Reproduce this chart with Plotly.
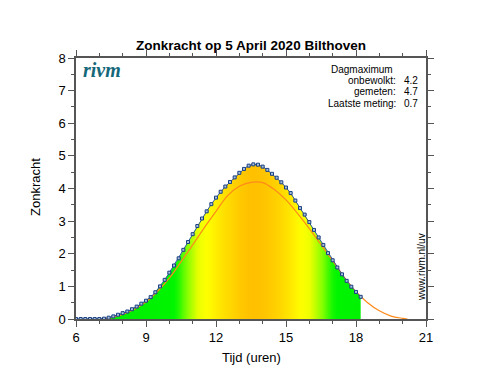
import plotly.graph_objects as go

# ---- data ----
meas_hours = [6.0, 6.2, 6.4, 6.6, 6.8, 7.0, 7.2, 7.4, 7.6, 7.8,
              8.0, 8.2, 8.4, 8.6, 8.8, 9.0, 9.2, 9.4, 9.6, 9.8,
              10.0, 10.2, 10.4, 10.6, 10.8, 11.0, 11.2, 11.4, 11.6, 11.8,
              12.0, 12.2, 12.4, 12.6, 12.8, 13.0, 13.2, 13.4, 13.6, 13.8,
              14.0, 14.2, 14.4, 14.6, 14.8, 15.0, 15.2, 15.4, 15.6, 15.8,
              16.0, 16.2, 16.4, 16.6, 16.8, 17.0, 17.2, 17.4, 17.6, 17.8,
              18.0, 18.2]
meas_values = [0, 0, 0, 0, 0, 0, 0.01, 0.04, 0.08, 0.13,
               0.18, 0.23, 0.30, 0.38, 0.47, 0.56, 0.67, 0.82, 1.00, 1.20,
               1.42, 1.64, 1.86, 2.12, 2.36, 2.60, 2.85, 3.08, 3.30, 3.52,
               3.72, 3.90, 4.06, 4.20, 4.34, 4.48, 4.60, 4.70, 4.74, 4.73,
               4.67, 4.57, 4.45, 4.33, 4.19, 4.03, 3.86, 3.63, 3.40, 3.20,
               2.97, 2.73, 2.50, 2.27, 2.02, 1.80, 1.58, 1.37, 1.17, 0.99,
               0.83, 0.68]

clear_hours = [7.0, 7.5, 8.0, 8.5, 9.0, 9.5, 10.0, 10.5, 11.0, 11.5,
               12.0, 12.5, 13.0, 13.5, 14.0, 14.5, 15.0, 15.5, 16.0, 16.5,
               17.0, 17.5, 18.0, 18.5, 19.0, 19.5, 20.0, 20.2]
clear_values = [0.0, 0.04, 0.14, 0.30, 0.52, 0.85, 1.25, 1.75, 2.27, 2.80,
                3.30, 3.78, 4.07, 4.19, 4.18, 3.97, 3.65, 3.23, 2.77, 2.28,
                1.78, 1.28, 0.84, 0.50, 0.25, 0.09, 0.02, 0.0]

x_ticks = [6, 9, 12, 15, 18, 21]
y_ticks = [0, 1, 2, 3, 4, 5, 6, 7, 8]

title_text = "Zonkracht op 5 April 2020 Bilthoven"
info_labels = ["onbewolkt:", "gemeten:", "Laatste meting:"]
info_values = ["4.2", "4.7", "0.7"]

# ---- colour by value for the fill ----
anchors = [(0.0, (0, 240, 0)), (1.7, (0, 245, 0)), (2.3, (130, 255, 0)),
           (2.9, (235, 255, 0)), (3.35, (255, 255, 0)), (3.9, (255, 230, 0)),
           (4.4, (255, 206, 0)), (4.8, (255, 190, 0))]


def colour_for(v):
    if v <= anchors[0][0]:
        c = anchors[0][1]
    elif v >= anchors[-1][0]:
        c = anchors[-1][1]
    else:
        for (a, ca), (b, cb) in zip(anchors[:-1], anchors[1:]):
            if a <= v <= b:
                t = (v - a) / (b - a)
                c = tuple(round(ca[i] + (cb[i] - ca[i]) * t) for i in range(3))
                break
    return "rgb(%d,%d,%d)" % c


xmin, xmax = meas_hours[0], meas_hours[-1]
fill_scale = [[(h - xmin) / (xmax - xmin), colour_for(v)]
              for h, v in zip(meas_hours, meas_values)]

FONT = "Liberation Sans, Arial, Helvetica, sans-serif"

fig = go.Figure()

fig.add_trace(go.Scatter(
    x=meas_hours, y=meas_values, mode="none", fill="tozeroy",
    fillgradient=dict(type="horizontal", colorscale=fill_scale),
    hoverinfo="skip", showlegend=False))

fig.add_trace(go.Scatter(
    x=clear_hours, y=clear_values, mode="lines",
    line=dict(color="#ff8a1a", width=1.2, shape="spline"),
    showlegend=False))

fig.add_trace(go.Scatter(
    x=meas_hours, y=meas_values, mode="lines+markers",
    line=dict(color="#2a5599", width=1),
    marker=dict(symbol="square", size=3, color="#a8c0d8",
                line=dict(color="#1a3f82", width=1)),
    showlegend=False))

L, R, T, B = 76, 76, 58, 58
W, H = 502, 377
pw, ph = W - L - R, H - T - B


def px(xp):
    return (xp - L) / pw


def py(yp):
    return (H - B - yp) / ph


ann = []
ann.append(dict(text="Dagmaximum", x=px(329), y=py(69), xanchor="left",
                yanchor="middle", font=dict(size=10, family=FONT, color="#000")))
for i, (lab, val) in enumerate(zip(info_labels, info_values)):
    yy = py(80 + i * 11.6)
    ann.append(dict(text=lab, x=px(398), y=yy, xanchor="right", yanchor="middle",
                    font=dict(size=10, family=FONT, color="#000")))
    ann.append(dict(text=val, x=px(402), y=yy, xanchor="left", yanchor="middle",
                    font=dict(size=10, family=FONT, color="#000")))
ann.append(dict(text="<b><i>rivm</i></b>", x=px(81), y=py(70), xanchor="left",
                yanchor="middle",
                font=dict(size=20, family="Liberation Serif, DejaVu Serif, serif",
                          color="#15687a")))
ann.append(dict(text="www.rivm.nl/uv", x=px(421), y=py(267), xanchor="center",
                yanchor="middle", textangle=-90,
                font=dict(size=10, family=FONT, color="#000")))
ann.append(dict(text="Tijd (uren)", x=px(251), y=py(357), xanchor="center",
                yanchor="middle", font=dict(size=13, family=FONT, color="#000")))
ann.append(dict(text="Zonkracht", x=px(35), y=py(187), xanchor="center",
                yanchor="middle", textangle=-90,
                font=dict(size=13, family=FONT, color="#000")))
for a in ann:
    a.update(xref="paper", yref="paper", showarrow=False)

fig.update_layout(
    width=W, height=H,
    margin=dict(l=L, r=R, t=T, b=B),
    paper_bgcolor="white", plot_bgcolor="white",
    title=dict(text="<b>" + title_text + "</b>", x=0.5, xanchor="center",
               y=1 - 45 / H, yanchor="middle", yref="container",
               font=dict(size=13.5, family=FONT, color="#000")),
    annotations=ann,
    font=dict(family=FONT, size=13, color="#000"),
)

axis_common = dict(showgrid=False, zeroline=False, showline=True,
                   linecolor="#555", linewidth=1.5, mirror="allticks",
                   ticks="outside", ticklen=6, tickcolor="#555", tickwidth=1,
                   tickfont=dict(size=13, family=FONT, color="#000"))
fig.update_xaxes(range=[6, 21], tickvals=x_ticks, ticktext=[str(t) for t in x_ticks],
                 minor=dict(dtick=1, ticks="outside", ticklen=3, tickcolor="#555"),
                 **axis_common)
fig.update_yaxes(range=[0, 8], tickvals=y_ticks, ticktext=[str(t) for t in y_ticks],
                 minor=dict(dtick=0.5, ticks="outside", ticklen=3, tickcolor="#555"),
                 **axis_common)

fig.write_html("out.html", config={"displayModeBar": False},
               post_script="document.body.style.margin='0';")
